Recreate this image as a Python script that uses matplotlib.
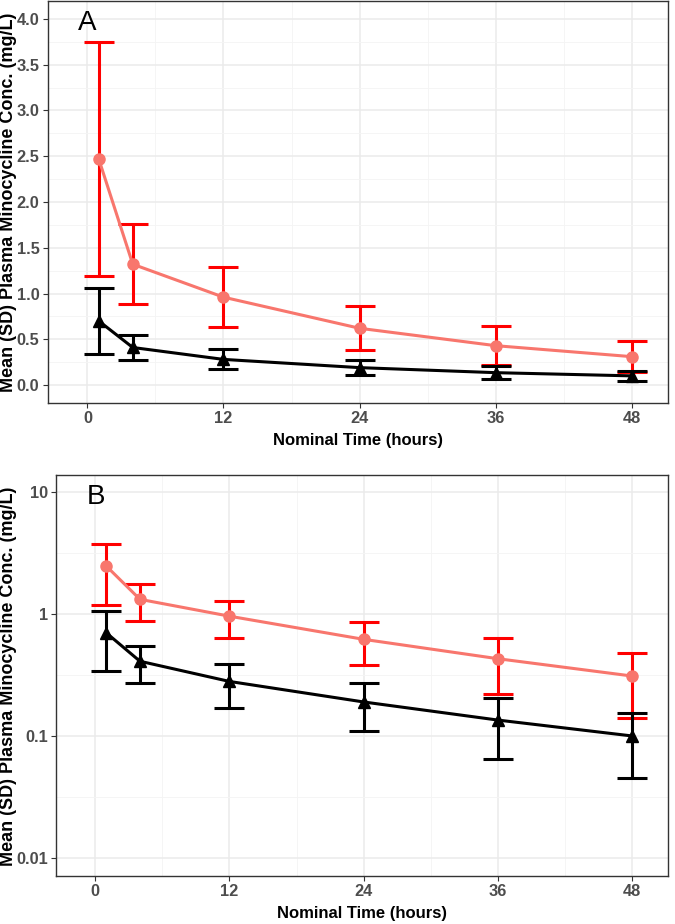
import numpy as np
import matplotlib.pyplot as plt
from matplotlib.ticker import FixedLocator, NullFormatter

# Nominal sampling times (hours)
time = [1, 4, 12, 24, 36, 48]

# Red group (circles): mean and SD
red_mean = [2.47, 1.32, 0.96, 0.62, 0.43, 0.31]
red_sd = [1.28, 0.44, 0.33, 0.24, 0.21, 0.17]

# Black group (triangles): mean and SD
blk_mean = [0.70, 0.41, 0.28, 0.19, 0.135, 0.10]
blk_sd = [0.36, 0.14, 0.11, 0.08, 0.07, 0.055]

x_ticks = [0, 12, 24, 36, 48]
lin_ticks = [0.0, 0.5, 1.0, 1.5, 2.0, 2.5, 3.0, 3.5, 4.0]
log_ticks = [0.01, 0.1, 1, 10]

fam = ['Liberation Sans', 'DejaVu Sans']
tick_font = dict(family=fam, weight='bold', size=11.8, color='#4D4D4D')
lab_font = dict(family=fam, weight='bold', size=12, color='black')
ylab_font = dict(family=fam, weight='bold', size=13, color='black')

fig = plt.figure(figsize=(6.75, 9.24), dpi=100)
axA = fig.add_axes([0.0707, 0.5639, 0.9189, 0.4350])
axB = fig.add_axes([0.0830, 0.0519, 0.9066, 0.4340])

def draw(ax):
    cap = 10.8
    ax.errorbar(time, red_mean, yerr=red_sd, fmt='none', ecolor='#FF0000',
                elinewidth=2.2, capsize=cap, capthick=2.2, zorder=3)
    ax.errorbar(time, blk_mean, yerr=blk_sd, fmt='none', ecolor='black',
                elinewidth=2.2, capsize=cap, capthick=2.2, zorder=4)
    ax.plot(time, red_mean, color='#F8766D', lw=2.2, marker='o', ms=8,
            mec='#F8766D', mfc='#F8766D', zorder=5)
    ax.plot(time, blk_mean, color='black', lw=2.2, marker='^', ms=8,
            zorder=6)

    ax.set_xlim(-3.5, 51.2)
    ax.xaxis.set_minor_locator(FixedLocator([6, 18, 30, 42]))
    ax.grid(True, which='major', color='#EBEBEB', lw=1.1, zorder=0)
    ax.grid(True, which='minor', color='#F4F4F4', lw=0.6, zorder=0)
    ax.set_axisbelow(True)
    for s in ax.spines.values():
        s.set_color('#333333')
        s.set_linewidth(1.0)
    ax.tick_params(which='major', length=3.5, width=0.8, color='#333333', pad=2.5)
    ax.tick_params(which='minor', length=0)
    ax.set_xticks(x_ticks)
    ax.set_xticklabels([str(t) for t in x_ticks], **tick_font)
    ax.set_xlabel('Nominal Time (hours)', labelpad=5, **lab_font)

draw(axA)
axA.set_ylim(-0.196, 4.196)
axA.set_yticks(lin_ticks)
axA.set_yticklabels(['%.1f' % v for v in lin_ticks], **tick_font)
axA.yaxis.set_minor_locator(FixedLocator([0.25, 0.75, 1.25, 1.75, 2.25, 2.75, 3.25, 3.75]))
axA.tick_params(axis='y', which='minor', length=0)
axA.text(0.049, 0.977, 'A', transform=axA.transAxes, ha='left', va='top',
         fontsize=20, family=fam)

draw(axB)
axB.set_yscale('log')
axB.set_ylim(0.0071, 13.8)
axB.yaxis.set_major_locator(FixedLocator(log_ticks))
axB.yaxis.set_minor_locator(FixedLocator([0.0316, 0.316, 3.16]))
axB.yaxis.set_minor_formatter(NullFormatter())
axB.set_yticks(log_ticks)
axB.set_yticklabels(['0.01', '0.1', '1', '10'], **tick_font)
axB.tick_params(axis='y', which='minor', length=0)
axB.text(0.05, 0.977, 'B', transform=axB.transAxes, ha='left', va='top',
         fontsize=20, family=fam)

# y titles placed at a fixed figure x so they line up as in the reference
ytitle = 'Mean (SD) Plasma Minocycline Conc. (mg/L)'
for ax in (axA, axB):
    ax.set_ylabel(ytitle, **ylab_font)
    ax.yaxis.label.set_va('center')
axA.yaxis.set_label_coords(9 / 675, (924 - 202) / 924, transform=fig.transFigure)
axB.yaxis.set_label_coords(9 / 675, (924 - 676) / 924, transform=fig.transFigure)

fig.savefig('out.png', dpi=100)
